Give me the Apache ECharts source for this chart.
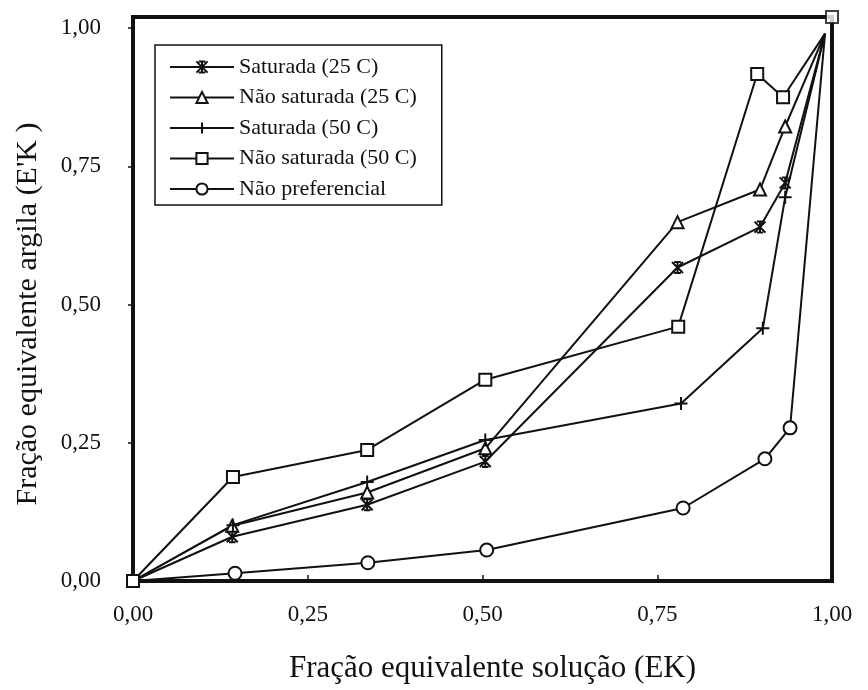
<!DOCTYPE html>
<html>
<head>
<meta charset="utf-8">
<script src="https://cdn.jsdelivr.net/npm/echarts@6/dist/echarts.min.js"></script>
<style>
  html, body { margin: 0; padding: 0; background: #fff; }
  #chart { width: 868px; height: 690px; }
</style>
</head>
<body>
<div id="chart"></div>
<script>
// dados (fração equivalente solução x fração equivalente argila)
var seriesNames = ['Saturada (25 C)', 'Não saturada (25 C)', 'Saturada (50 C)', 'Não saturada (50 C)', 'Não preferencial'];

var sat25X = [0, 0.142, 0.335, 0.504, 0.779, 0.897, 0.933, 0.99];
var sat25Y = [0, 0.080, 0.138, 0.216, 0.567, 0.640, 0.720, 0.99];

var naoSat25X = [0, 0.142, 0.335, 0.504, 0.779, 0.897, 0.933, 0.99];
var naoSat25Y = [0, 0.100, 0.160, 0.240, 0.649, 0.708, 0.822, 0.99];

var sat50X = [0, 0.143, 0.335, 0.504, 0.784, 0.901, 0.933, 0.99];
var sat50Y = [0, 0.101, 0.179, 0.255, 0.321, 0.457, 0.694, 0.99];

var naoSat50X = [0, 0.143, 0.335, 0.504, 0.780, 0.893, 0.930, 0.99];
var naoSat50Y = [0, 0.188, 0.237, 0.364, 0.460, 0.917, 0.875, 0.99];

var naoPrefX = [0, 0.146, 0.336, 0.506, 0.787, 0.904, 0.940, 0.99];
var naoPrefY = [0, 0.014, 0.033, 0.056, 0.132, 0.221, 0.277, 0.99];

// marcador isolado no canto superior direito
var cantoX = [1.0];
var cantoY = [1.02];

var yTicks = [0, 0.25, 0.5, 0.75, 1.0];

var chart = echarts.init(document.getElementById('chart'));

var fmt = function (v) {
    return v.toFixed(2).replace('.', ',');
};

var pares = function (xs, ys, hideFirst) {
    var out = [];
    for (var i = 0; i < xs.length; i++) {
        var item = { value: [xs[i], ys[i]] };
        if ((hideFirst && i === 0) || i === xs.length - 1) {
            item.symbol = 'none';
        }
        out.push(item);
    }
    return out;
};

var asterisco = 'path://M0 0L10 10M10 0L0 10M5 0L5 10M2 0L8 0M2 10L8 10';
var mais = 'path://M5 0L5 10M0 5L10 5';

var serie = function (name, data, symbol, size, stroke) {
    return {
        name: name,
        type: 'line',
        data: data,
        symbol: symbol,
        symbolSize: size,
        showAllSymbol: true,
        lineStyle: { color: '#111', width: 2 },
        itemStyle: stroke
            ? { color: 'rgba(0,0,0,0)', borderColor: '#111', borderWidth: 2 }
            : { color: '#fff', borderColor: '#111', borderWidth: 2 },
        emphasis: { disabled: true },
        z: 3
    };
};

var fonte = 'Liberation Serif';

var option = {
    animation: false,
    backgroundColor: '#fff',
    textStyle: { fontFamily: fonte, color: '#111' },
    grid: {
        left: 133,
        right: 36,
        top: 17,
        bottom: 109,
        containLabel: false,
        outerBoundsMode: 'none',
        show: true,
        borderColor: '#111',
        borderWidth: 4,
        backgroundColor: 'transparent'
    },
    legend: {
        orient: 'vertical',
        left: 155,
        top: 45,
        padding: [10, 25, 4, 14],
        borderColor: '#111',
        borderWidth: 1.5,
        itemWidth: 64,
        itemHeight: 14,
        itemGap: 6.5,
        data: seriesNames,
        textStyle: { fontFamily: fonte, fontSize: 22, lineHeight: 24, color: '#111' }
    },
    xAxis: {
        type: 'value',
        min: 0,
        max: 1,
        interval: 0.25,
        name: 'Fração equivalente solução (EK)',
        nameLocation: 'middle',
        nameGap: 72,
        nameTextStyle: { fontFamily: fonte, fontSize: 31, color: '#111', padding: [0, 0, 0, 20] },
        axisLine: { show: true, lineStyle: { color: '#111', width: 4 } },
        axisTick: { show: true, inside: true, length: 6, lineStyle: { color: '#111', width: 1.5 } },
        axisLabel: { formatter: fmt, fontFamily: fonte, fontSize: 23, color: '#111', margin: 22 },
        splitLine: { show: false }
    },
    yAxis: {
        type: 'value',
        min: 0,
        max: 1.02,
        interval: 0.25,
        name: "Fração equivalente argila (E'K )",
        nameLocation: 'middle',
        nameGap: 90,
        nameTextStyle: { fontFamily: fonte, fontSize: 30, color: '#111', padding: [0, 30, 0, 0] },
        axisLine: { show: true, lineStyle: { color: '#111', width: 4 } },
        axisTick: { show: true, length: 5, lineStyle: { color: '#111', width: 1.5 } },
        axisLabel: {
            formatter: function (v) { return yTicks.indexOf(v) >= 0 ? fmt(v) : ''; },
            showMaxLabel: false,
            fontFamily: fonte, fontSize: 23, color: '#111', margin: 32
        },
        splitLine: { show: false }
    },
    series: [
        serie(seriesNames[0], pares(sat25X, sat25Y, true), asterisco, 11, true),
        serie(seriesNames[1], pares(naoSat25X, naoSat25Y, true), 'triangle', 12, false),
        serie(seriesNames[2], pares(sat50X, sat50Y, true), mais, 13, true),
        serie(seriesNames[4], pares(naoPrefX, naoPrefY, true), 'circle', 13, false),
        serie(seriesNames[3], pares(naoSat50X, naoSat50Y, false), 'rect', 12, false),
        {
            name: seriesNames[3],
            type: 'scatter',
            data: cantoX.map(function (x, i) { return [x, cantoY[i]]; }),
            symbol: 'rect',
            symbolSize: 12,
            clip: false,
            itemStyle: { color: '#fff', borderColor: '#111', borderWidth: 2 },
            emphasis: { disabled: true },
            z: 4
        }
    ]
};

chart.setOption(option);
</script>
</body>
</html>
